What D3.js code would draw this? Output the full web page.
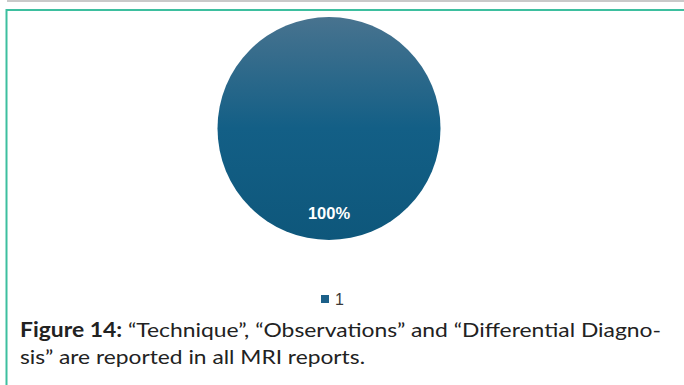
<!DOCTYPE html>
<html>
<head>
<meta charset="utf-8">
<script src="https://cdn.jsdelivr.net/npm/d3@7/dist/d3.min.js"></script>
<style>
  html, body { margin: 0; padding: 0; background: #ffffff; }
  svg { display: block; }
</style>
</head>
<body>
<svg id="chart" width="684" height="385"></svg>
<script>
// Data
const categories = ["1"];
const values = [100];
const valueLabels = ["100%"];
const captionBold = "Figure 14:";
const captionLines = [
  " \u201CTechnique\u201D, \u201CObservations\u201D and \u201CDifferential Diagno-",
  "sis\u201D are reported in all MRI reports."
];

const svg = d3.select("#chart");
const W = 684, H = 385;

// Frame: grey rule on top, teal border on left and top
svg.append("rect").attr("x", 7).attr("y", 0).attr("width", W - 7).attr("height", 2).attr("fill", "#c9c9c9");
svg.append("line").attr("x1", 6).attr("y1", 10).attr("x2", W).attr("y2", 10)
  .attr("stroke", "#3dbf9f").attr("stroke-width", 2);
svg.append("line").attr("x1", 6.5).attr("y1", 9).attr("x2", 6.5).attr("y2", H)
  .attr("stroke", "#3dbf9f").attr("stroke-width", 2);

// Vertical shading of the slice
const defs = svg.append("defs");
const grad = defs.append("linearGradient").attr("id", "sliceGrad")
  .attr("x1", 0).attr("y1", 0).attr("x2", 0).attr("y2", 1);
grad.append("stop").attr("offset", "0%").attr("stop-color", "#48738f");
grad.append("stop").attr("offset", "50%").attr("stop-color", "#135f86");
grad.append("stop").attr("offset", "100%").attr("stop-color", "#0e577b");

const cx = 329, cy = 128.5, R = 111.5;
const color = d3.scaleOrdinal().domain(categories).range(["url(#sliceGrad)"]);

const pie = d3.pie().sort(null).value(d => d.value);
const arc = d3.arc().innerRadius(0).outerRadius(R);
const labelArc = d3.arc().innerRadius(R * 0.76).outerRadius(R * 0.76);

const data = categories.map((c, i) => ({ cat: c, value: values[i], label: valueLabels[i] }));
const g = svg.append("g").attr("transform", `translate(${cx},${cy})`);

g.selectAll("path.slice").data(pie(data)).join("path")
  .attr("class", "slice")
  .attr("d", arc)
  .attr("fill", d => color(d.data.cat));

g.selectAll("text.val").data(pie(data)).join("text")
  .attr("class", "val")
  .attr("transform", d => `translate(${labelArc.centroid(d)})`)
  .attr("text-anchor", "middle")
  .attr("dy", "0.35em")
  .attr("font-family", "Liberation Sans, Arial, sans-serif")
  .attr("font-weight", "bold")
  .attr("font-size", 16.5)
  .attr("fill", "#ffffff")
  .text(d => d.data.label);

// Legend
const legend = svg.append("g").attr("transform", "translate(321,295)");
legend.selectAll("rect").data(data).join("rect")
  .attr("x", 0).attr("y", 0).attr("width", 8).attr("height", 8)
  .attr("fill", "#1c6089");
legend.selectAll("text").data(data).join("text")
  .attr("x", 14).attr("y", 10)
  .attr("font-family", "Liberation Sans, Arial, sans-serif")
  .attr("font-size", 16)
  .attr("fill", "#3a3a3a")
  .text(d => d.cat);

// Caption
const cap = svg.append("g").attr("font-family", "Lato, 'Open Sans', sans-serif")
  .attr("font-size", 20).attr("fill", "#222222");
const t1 = cap.append("text").attr("x", 20).attr("y", 337)
  .attr("textLength", 641).attr("lengthAdjust", "spacingAndGlyphs");
t1.append("tspan").attr("font-weight", "bold").text(captionBold);
t1.append("tspan").text(captionLines[0]);
cap.append("text").attr("x", 20).attr("y", 364)
  .attr("textLength", 345).attr("lengthAdjust", "spacingAndGlyphs")
  .text(captionLines[1]);
</script>
</body>
</html>
